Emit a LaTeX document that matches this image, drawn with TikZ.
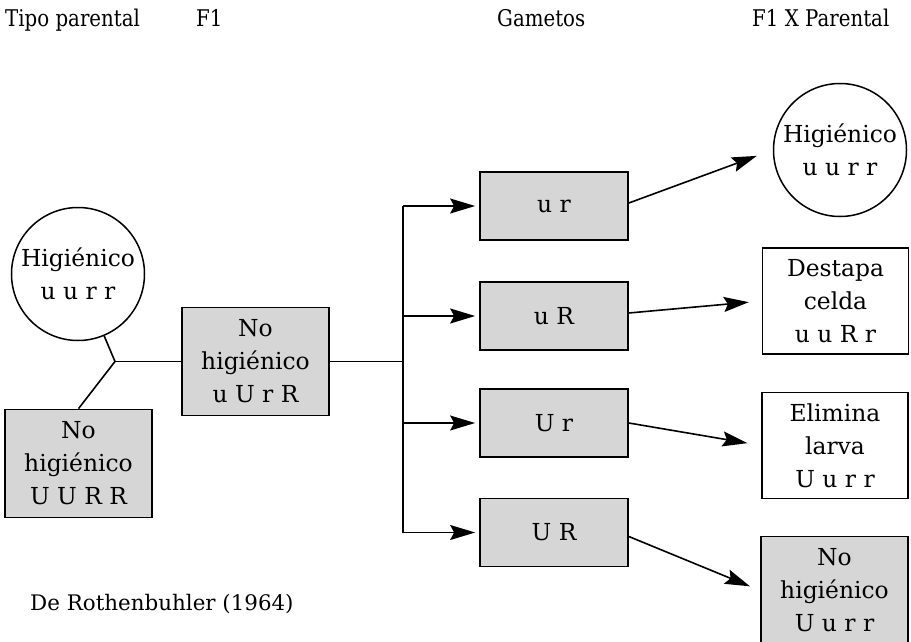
\documentclass[tikz,border=0pt]{standalone}
\usepackage{fontspec}
\setmainfont{DejaVu Serif}
\newfontfamily\headfont[FakeStretch=0.86]{DejaVu Serif}
\usetikzlibrary{arrows.meta}
\begin{document}
\begin{tikzpicture}[x=1pt,y=-1pt,
  txt/.style={font=\fontsize{23.4}{33}\selectfont, align=center, inner sep=0pt},
  gbox/.style={txt, draw, line width=1.7pt, fill=black!16, minimum width=147pt, minimum height=108pt},
  wbox/.style={txt, draw, line width=1.5pt, fill=white, minimum width=146pt, minimum height=106pt},
  gam/.style={txt, draw, line width=1.7pt, fill=black!16, minimum width=148pt, minimum height=68pt},
  circ/.style={txt, draw, circle, line width=1.5pt, minimum size=133pt},
  conn/.style={line width=1.6pt},
  arr/.style={conn, -{Stealth[length=25pt,width=15pt,inset=4pt]}},
  head/.style={font=\headfont\fontsize{23}{28}\selectfont, anchor=base west, inner sep=0pt}]
\clip (0,0) rectangle (911,642);
\fill[white] (0,0) rectangle (911,642);
% headers
\node[head] (t1) at (5,27) {Tipo parental};
\node[head] (t2) at (196,27) {F1};
\node[head] (t3) at (497,27) {Gametos};
\node[head] (t4) at (752,27) {F1 X Parental};
% parents and F1
\node[circ] (hp) at (78,274) {Higiénico\\u u r r};
\node[gbox] (np) at (78.5,463.5) {No\\higiénico\\U U R R};
\node[gbox] (f1) at (255.5,361.5) {No\\higiénico\\u U r R};
\coordinate (J) at (115,361.5);
\coordinate (B) at (403,361.5);
% gametes
\node[gam] (g1) at (554,206) {u r};
\node[gam] (g2) at (554,316) {u R};
\node[gam] (g3) at (554,423) {U r};
\node[gam] (g4) at (554,532.5) {U R};
% F1 x parental
\node[circ] (r1) at (840,150) {Higiénico\\u u r r};
\node[wbox] (r2) at (835.5,301) {Destapa\\celda\\u u R r};
\node[wbox] (r3) at (835,445.5) {Elimina\\larva\\U u r r};
\node[gbox] (r4) at (834.5,590.5) {No\\higiénico\\U u r r};
% source
\node[font=\fontsize{21.4}{28}\selectfont, anchor=base west, inner sep=0pt] (src) at (30,610) {De Rothenbuhler (1964)};
% connectors
\draw[conn] (hp) -- (J);
\draw[conn] (np.north) -- (J);
\draw[conn] (J) -- (f1.west);
\draw[conn] (f1.east) -- (B);
\draw[conn] (B |- g1) -- (B |- g4);
\foreach \g in {g1,g2,g3,g4} \draw[arr, shorten >=4pt] (B |- \g) -- (\g.west);
\draw[arr, shorten >=17pt] ([yshift=3pt]g1.east) -- (r1.west);
\draw[arr, shorten >=13pt] ([yshift=3pt]g2.east) -- (r2.west);
\draw[arr, shorten >=14pt] (g3.east) -- (r3.west);
\draw[arr, shorten >=11pt] ([yshift=-4pt]g4.east) -- (r4.west);
\end{tikzpicture}
\end{document}
